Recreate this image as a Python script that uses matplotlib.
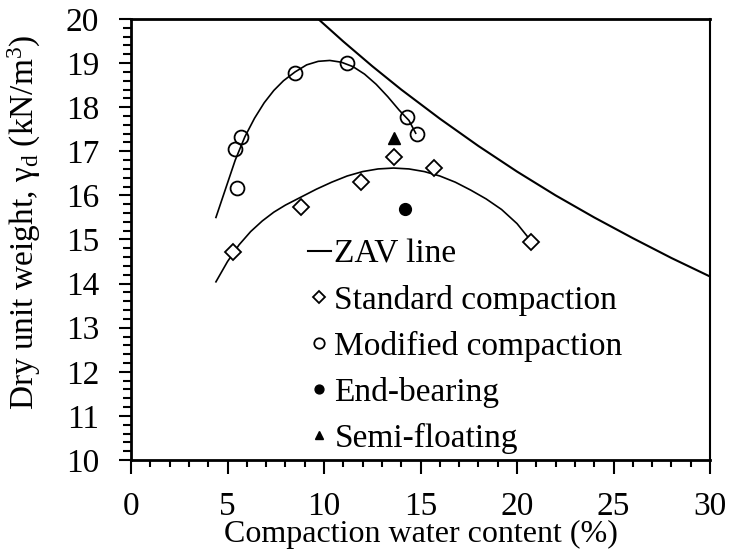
import matplotlib
matplotlib.use("Agg")
import matplotlib.pyplot as plt
from matplotlib.ticker import MultipleLocator

plt.rcParams["font.family"] = ["Liberation Serif", "DejaVu Serif"]
plt.rcParams["mathtext.default"] = "regular"

# measured points (water content %, dry unit weight kN/m3)
std_w = [5.3, 8.8, 11.9, 13.6, 15.7, 20.7]
std_gd = [14.72, 15.74, 16.30, 16.88, 16.61, 14.95]
mod_w = [5.4, 5.5, 5.7, 8.5, 11.2, 14.3, 14.8]
mod_gd = [17.05, 16.17, 17.32, 18.77, 19.00, 17.77, 17.39]
end_w = [14.2]
end_gd = [15.69]
semi_w = [13.6]
semi_gd = [17.30]

# trend curves
std_fit_w = [4.4, 5.0, 5.6, 6.2, 6.8, 7.4, 8.0, 8.8, 9.6, 10.4, 11.2, 12.0,
             12.8, 13.6, 14.4, 15.2, 16.0, 16.8, 17.6, 18.4, 19.2, 20.0, 20.7]
std_fit_gd = [14.04, 14.50, 14.88, 15.18, 15.42, 15.62, 15.78, 15.96, 16.14,
              16.30, 16.44, 16.54, 16.60, 16.62, 16.60, 16.54, 16.44, 16.30,
              16.12, 15.92, 15.68, 15.36, 14.98]
mod_fit_w = [4.4, 4.9, 5.4, 5.9, 6.4, 6.9, 7.4, 7.9, 8.5, 9.1, 9.7, 10.3,
             10.9, 11.5, 12.1, 12.7, 13.3, 13.9, 14.4, 14.75]
mod_fit_gd = [15.50, 16.15, 16.80, 17.33, 17.75, 18.10, 18.38, 18.60, 18.80,
              18.96, 19.04, 19.06, 19.02, 18.92, 18.75, 18.52, 18.24, 17.93,
              17.70, 17.41]
zav_w = [9.7, 11, 12.5, 14, 16, 18, 20, 22, 24, 26, 28, 30]
zav_gd = [20.0, 19.49, 18.93, 18.40, 17.74, 17.12, 16.54, 16.00, 15.50,
          15.03, 14.58, 14.16]

fig = plt.figure(figsize=(7.29, 5.54), dpi=100)
ax = fig.add_axes([0.1797, 0.1697, 0.7943, 0.796])

lw = 1.2
zav, = ax.plot(zav_w, zav_gd, color="black", lw=lw + 0.3)
ax.plot(std_fit_w, std_fit_gd, color="black", lw=lw)
ax.plot(mod_fit_w, mod_fit_gd, color="black", lw=lw)
std, = ax.plot(std_w, std_gd, ls="none", marker="D", ms=8, mfc="white",
               mec="black", mew=1.3)
mod, = ax.plot(mod_w, mod_gd, ls="none", marker="o", ms=10, mfc="none",
               mec="black", mew=1.3)
endb, = ax.plot(end_w, end_gd, ls="none", marker="o", ms=8.5, color="black")
semi, = ax.plot(semi_w, semi_gd, ls="none", marker="^", ms=8, color="black")

ax.set_xlim(0, 30)
ax.set_ylim(10, 20)
ax.xaxis.set_major_locator(MultipleLocator(5))
ax.xaxis.set_minor_locator(MultipleLocator(1))
ax.yaxis.set_major_locator(MultipleLocator(1))
ax.yaxis.set_minor_locator(MultipleLocator(0.2))
ax.tick_params(axis="x", which="major", direction="out", length=10, width=1.5,
               pad=13, labelsize=24)
ax.tick_params(axis="x", which="minor", direction="out", length=5, width=1.5)
ax.tick_params(axis="y", which="major", direction="out", length=9, width=1.5,
               pad=14, labelsize=24)
ax.tick_params(axis="y", which="minor", direction="out", length=6, width=1.5)
for side in ("left", "bottom", "top"):
    ax.spines[side].set_linewidth(2)
ax.spines["right"].set_linewidth(1.5)

ax.set_xlabel("Compaction water content (%)", fontsize=23, va="top")
ax.xaxis.set_label_coords(0.5, -0.136)
ax.set_ylabel("Dry unit weight, γ$_d$ (kN/m$^3$)", fontsize=24)
ax.yaxis.set_label_coords(-0.152, 0.54)

ax.legend([zav, std, mod, endb, semi],
          ["ZAV line", "Standard compaction", "Modified compaction",
           "End-bearing", "Semi-floating"],
          loc="upper left", bbox_to_anchor=(0.305, 0.50), frameon=False,
          fontsize=24, handlelength=0.7, handletextpad=0.1, labelspacing=0.45,
          borderpad=0, borderaxespad=0, markerscale=0.75)

fig.savefig("out.png", dpi=100)
